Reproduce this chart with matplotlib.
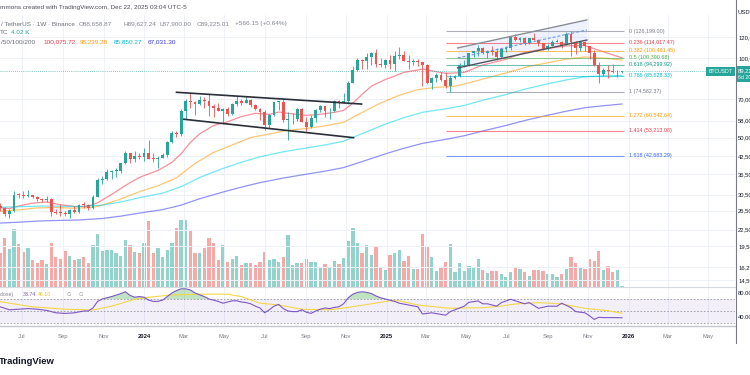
import numpy as np
import pandas as pd
import matplotlib
matplotlib.use("Agg")
import matplotlib.pyplot as plt
import matplotlib.dates as mdates
from matplotlib.lines import Line2D
from matplotlib.patches import Rectangle
from matplotlib.ticker import FixedLocator, NullLocator, FuncFormatter

plt.rcParams["font.family"] = ["Liberation Sans", "DejaVu Sans"]

W, H = 750, 375

# weekly BTCUSDT candles (thousand USDT), first bar opens 2023-05-29
week_start = "2023-05-29"
first_open = 27.6
highs = [28.45, 27.4, 26.8, 31.4, 31.0, 31.5, 31.8, 30.4, 30.0, 29.7,
         30.2, 29.7, 26.8, 28.1, 26.4, 26.9, 27.5, 28.0, 28.6, 28.0,
         30.4, 35.2, 35.9, 38.0, 37.9, 38.4, 40.25, 44.7, 43.9, 44.4,
         43.8, 45.9, 49.0, 43.6, 42.8, 43.9, 48.6, 52.8, 53.0, 64.0,
         69.9, 73.8, 68.9, 71.7, 71.3, 72.8, 67.2, 67.5, 64.7, 65.5,
         67.7, 71.95, 70.0, 71.95, 70.2, 67.0, 64.5, 63.8, 61.4, 68.4,
         69.0, 70.1, 62.7, 62.0, 65.0, 64.9, 59.8, 60.7, 64.1, 66.5,
         66.0, 64.5, 69.4, 69.5, 73.6, 81.5, 93.3, 99.6, 98.7, 104.1,
         105.2, 108.4, 99.95, 98.9, 102.7, 106.0, 109.6, 106.5, 102.5, 98.8,
         99.5, 96.5, 95.0, 84.5, 87.5, 88.8, 88.5, 86.1, 86.5, 95.8,
         97.9, 104.4, 106.6, 111.98, 110.4, 106.8, 110.5, 108.9, 108.5, 110.5,
         119.9, 123.2, 120.2, 119.8, 119.4, 124.5, 117.6, 113.6, 113.4, 116.7,
         117.9, 115.5, 125.7, 126.2, 116.0, 115.5, 116.4, 110.9, 107.5, 96.6,
         92.0, 94.2, 94.6, 90.4, 89.627]
lows = [26.5, 25.35, 24.8, 26.25, 29.5, 29.7, 29.95, 29.5, 28.9, 28.6,
        28.7, 25.2, 25.8, 25.35, 25.4, 24.9, 26.0, 26.0, 27.2, 26.55,
        26.9, 29.9, 33.4, 34.5, 34.8, 35.6, 36.9, 39.8, 40.2, 40.5,
        41.5, 40.75, 41.5, 40.3, 38.5, 41.8, 42.3, 47.7, 50.5, 50.9,
        59.0, 64.5, 60.8, 66.4, 64.5, 60.6, 59.6, 62.8, 56.55, 60.2,
        60.8, 66.1, 66.6, 67.6, 65.1, 63.4, 58.4, 53.5, 54.3, 60.6,
        63.5, 57.2, 49.0, 56.1, 57.8, 57.2, 52.55, 54.6, 57.5, 62.7,
        59.8, 58.9, 62.6, 65.0, 67.5, 66.8, 80.2, 89.4, 90.8, 90.5,
        94.1, 92.2, 92.5, 91.5, 91.2, 89.3, 99.5, 97.3, 91.2, 94.1,
        93.4, 78.2, 80.0, 76.6, 81.1, 81.6, 77.2, 74.5, 83.0, 85.1,
        92.8, 93.4, 100.7, 102.0, 103.1, 100.4, 102.7, 98.2, 99.6, 105.1,
        107.5, 115.7, 114.7, 112.0, 112.7, 116.8, 110.6, 107.3, 107.3, 110.6,
        114.4, 108.6, 111.6, 102.0, 103.5, 106.7, 106.3, 98.9, 93.0, 80.6,
        85.3, 83.8, 87.6, 84.4, 87.9]
closes = [27.1, 25.85, 26.35, 30.5, 30.45, 30.15, 30.25, 29.85, 29.3, 29.05,
          29.4, 26.1, 26.05, 25.95, 25.85, 26.55, 26.25, 27.95, 27.9, 27.15,
          29.95, 34.5, 35.0, 37.05, 37.4, 37.45, 39.95, 43.8, 41.4, 42.6,
          42.3, 43.9, 41.7, 41.6, 42.0, 43.0, 48.3, 52.1, 51.7, 63.1,
          68.9, 68.4, 67.2, 69.6, 69.0, 65.7, 64.9, 63.1, 64.0, 61.5,
          66.9, 68.5, 67.8, 69.6, 66.5, 64.2, 62.7, 55.8, 60.8, 68.2,
          68.25, 58.1, 58.7, 58.9, 64.2, 57.3, 54.8, 59.1, 63.6, 65.6,
          62.8, 62.9, 69.0, 67.9, 68.7, 80.4, 89.9, 97.9, 97.2, 101.1,
          104.4, 95.2, 93.7, 98.3, 94.5, 101.3, 102.6, 97.7, 96.5, 97.6,
          96.3, 94.3, 80.7, 84.0, 86.1, 82.4, 78.4, 83.8, 85.2, 93.8,
          94.3, 104.1, 106.5, 109.0, 104.6, 105.7, 105.6, 100.9, 108.4, 109.2,
          119.8, 117.3, 119.4, 114.2, 119.3, 117.4, 113.5, 108.3, 111.2, 115.3,
          115.3, 112.2, 123.5, 115.1, 108.6, 114.5, 110.6, 104.7, 94.2, 86.8,
          90.4, 89.4, 88.2, 88.659, 89.225]
# weekly volume, thousand BTC
vol_k = [136, 196, 152, 232, 172, 140, 156, 108, 96, 108,
         92, 176, 120, 112, 144, 124, 108, 112, 120, 96,
         168, 212, 144, 148, 148, 136, 124, 188, 168, 140,
         136, 176, 264, 136, 156, 120, 148, 176, 236, 268,
         268, 228, 136, 136, 156, 196, 176, 108, 168, 100,
         112, 124, 88, 96, 96, 88, 100, 140, 108, 112,
         100, 120, 208, 88, 96, 96, 112, 100, 100, 80,
         92, 80, 104, 92, 116, 184, 236, 176, 136, 168,
         128, 160, 80, 68, 128, 136, 148, 104, 124, 72,
         72, 212, 160, 120, 64, 80, 100, 172, 60, 96,
         64, 84, 80, 112, 68, 56, 64, 64, 52, 40,
         60, 76, 72, 60, 44, 68, 68, 64, 52, 52,
         40, 52, 72, 120, 96, 80, 72, 112, 104, 144,
         68, 84, 60, 68, 4.02]

# moving averages 20/50/100/200 (thousand USDT)
ma20_dates = ["2023-05-29", "2023-06-12", "2023-06-26", "2023-07-17", "2023-08-07", "2023-08-28",
              "2023-09-18", "2023-10-09", "2023-10-23", "2023-11-13", "2023-12-04", "2023-12-25",
              "2024-01-22", "2024-02-12", "2024-02-26", "2024-03-11", "2024-03-25", "2024-04-15",
              "2024-05-06", "2024-05-27", "2024-06-17", "2024-07-08", "2024-07-22", "2024-08-12",
              "2024-09-02", "2024-09-23", "2024-10-14", "2024-10-28", "2024-11-11", "2024-11-25",
              "2024-12-09", "2024-12-30", "2025-01-27", "2025-02-24", "2025-03-31", "2025-04-28",
              "2025-05-26", "2025-06-30", "2025-07-28", "2025-08-25", "2025-09-29", "2025-10-27",
              "2025-11-24", "2025-12-22"]
ma20_vals = [27.2, 27.0, 27.6, 28.3, 28.6, 27.9, 27.5, 27.5, 28.4, 30.5,
             33.0, 35.4, 37.6, 40.3, 43.5, 48.0, 51.7, 55.6, 57.4, 60.1,
             61.8, 61.2, 62.5, 61.5, 60.7, 61.3, 62.3, 63.4, 67.5, 72.9,
             78.3, 82.9, 88.2, 90.8, 87.4, 88.2, 94.1, 98.8, 105.0, 108.0,
             111.1, 111.4, 105.5, 100.08]
ma50_dates = ["2023-05-29", "2023-06-26", "2023-07-24", "2023-08-21", "2023-09-18", "2023-10-16",
              "2023-10-30", "2023-11-27", "2023-12-25", "2024-01-22", "2024-02-19", "2024-03-18",
              "2024-04-15", "2024-05-13", "2024-06-10", "2024-07-08", "2024-08-05", "2024-09-02",
              "2024-09-30", "2024-10-28", "2024-11-25", "2024-12-23", "2025-01-20", "2025-02-17",
              "2025-03-17", "2025-04-14", "2025-05-12", "2025-06-09", "2025-07-07", "2025-08-04",
              "2025-09-01", "2025-09-29", "2025-10-27", "2025-11-24", "2025-12-22"]
ma50_vals = [26.40, 26.69, 27.16, 27.23, 27.07, 27.25, 27.83, 29.33, 31.28, 32.91,
             35.27, 39.96, 43.99, 46.93, 50.06, 51.64, 53.34, 54.13, 55.42, 57.16,
             62.26, 67.60, 72.29, 75.94, 77.45, 78.20, 81.41, 85.08, 88.74, 93.00,
             95.89, 98.96, 100.91, 99.86, 98.24]
ma100_dates = ["2023-05-29", "2023-07-31", "2023-09-25", "2023-10-30", "2023-11-27", "2023-12-25",
               "2024-01-29", "2024-02-26", "2024-03-25", "2024-04-29", "2024-05-27", "2024-06-24",
               "2024-07-29", "2024-08-26", "2024-09-30", "2024-10-28", "2024-11-25", "2024-12-30",
               "2025-01-27", "2025-02-24", "2025-03-31", "2025-04-28", "2025-05-26", "2025-06-30",
               "2025-07-28", "2025-08-25", "2025-09-29", "2025-10-27", "2025-11-24", "2025-12-22"]
ma100_vals = [27.30, 27.60, 27.48, 27.81, 28.59, 29.66, 30.87, 32.64, 35.40, 38.25,
              40.40, 42.34, 44.24, 45.43, 46.94, 48.49, 51.80, 56.24, 59.53, 62.35,
              64.25, 66.18, 69.25, 72.74, 76.20, 79.15, 82.62, 84.90, 85.59, 85.85]
ma200_dates = ["2023-05-29", "2023-06-26", "2023-07-31", "2023-08-28", "2023-09-25", "2023-10-30",
               "2023-11-27", "2023-12-25", "2024-01-29", "2024-02-26", "2024-03-25", "2024-04-29",
               "2024-05-27", "2024-06-24", "2024-07-29", "2024-08-26", "2024-09-30", "2024-10-28",
               "2024-11-25", "2024-12-30", "2025-01-27", "2025-02-24", "2025-03-31", "2025-04-28",
               "2025-05-26", "2025-06-30", "2025-07-28", "2025-08-25", "2025-09-29", "2025-10-27",
               "2025-11-24", "2025-12-22"]
ma200_vals = [23.80, 23.98, 24.26, 24.36, 24.45, 24.76, 25.28, 25.95, 26.75, 27.81,
              29.41, 31.16, 32.53, 33.83, 35.20, 36.16, 37.38, 38.55, 40.62, 43.44,
              45.61, 47.59, 49.28, 50.85, 53.01, 55.60, 58.03, 60.25, 62.95, 64.88,
              66.02, 67.03]

# fibonacci retracement
fib_dates = ["2025-03-31", "2025-12-25"]
fib_ratios = ["0", "0.236", "0.382", "0.5", "0.618", "0.786", "1", "1.272", "1.414", "1.618"]
fib_prices = [126199.00, 114017.47, 106481.45, 100390.68, 94299.92, 85628.33,
              74582.37, 60542.64, 53213.08, 42683.29]
fib_colors = ["#787b86", "#f23645", "#ff9800", "#4caf50", "#089981", "#00bcd4",
              "#787b86", "#ff9800", "#f23645", "#2962ff"]

# drawings (thousand USDT)
flag_up_dates = ["2024-02-19", "2024-11-24"]
flag_up_vals = [74.2, 67.0]
flag_lo_dates = ["2024-03-01", "2024-11-12"]
flag_lo_vals = [58.7, 50.0]
chan_dates = ["2025-04-18", "2025-10-30"]
chan_upper = [109.1, 139.2]
chan_mid = [100.0, 127.5]
chan_lower = [91.7, 116.9]

# RSI 14 and its moving average (week index -> value)
rsi_weeks = [0, 2, 4, 6, 8, 10, 12, 14, 16, 18,
             19, 20, 21, 22, 24, 26, 27, 28, 29, 30,
             31, 32, 33, 34, 35, 36, 37, 38, 39, 40,
             41, 42, 43, 44, 45, 46, 47, 48, 49, 50,
             51, 52, 53, 54, 55, 56, 57, 58, 59, 60,
             61, 62, 63, 64, 65, 66, 67, 68, 69, 70,
             71, 72, 73, 74, 75, 76, 77, 78, 79, 80,
             81, 82, 83, 84, 85, 86, 88, 90, 91, 93,
             96, 97, 98, 100, 101, 103, 104, 105, 107, 108,
             110, 111, 113, 114, 116, 118, 120, 121, 123, 124,
             126, 127, 128, 129, 130, 132, 134]
rsi_vals = [57, 52, 53, 54, 53, 51, 47, 46, 47, 50,
            50, 55, 66, 70, 74, 79, 82, 76, 73, 74,
            73, 68, 66, 66, 68, 74, 80, 84, 87, 87,
            85, 80, 77, 74, 70, 68, 66, 63, 65, 67,
            67, 65, 64, 62, 58, 55, 47, 52, 58, 61,
            54, 50, 49, 49, 52, 48, 46, 50, 53, 55,
            54, 56, 57, 62, 72, 78, 81, 82, 81, 79,
            75, 72, 70, 68, 66, 63, 60, 57, 45, 47,
            43, 49, 52, 58, 64.5, 66.7, 62, 62, 58, 64,
            69.5, 67, 62, 64, 54.5, 58, 58, 63, 55.5, 49,
            47, 42, 36, 39.5, 39, 39, 38.74]
rsima_weeks = [0, 7, 14, 20, 24, 29, 32, 37, 43, 49, 52, 56, 60, 65, 71,
               75, 80, 84, 86, 90, 97, 104, 108, 111, 116, 121, 126, 131, 134]
rsima_vals = [65.5, 57, 53, 51.7, 58, 69.5, 73, 76.7, 78, 78, 74, 63, 60, 53, 52,
              56, 62, 67, 67, 60, 54.5, 55.5, 58.3, 61.7, 64, 61.7, 54.5, 50.5, 46.1]

price_ticks = [120000, 100000, 70000, 58000, 50000, 42500, 36500, 30500,
               26500, 22500, 19500, 16250, 14500]
tick_dates = ["2023-07-01", "2023-09-01", "2023-11-01", "2024-01-01", "2024-03-01", "2024-05-01",
              "2024-07-01", "2024-09-01", "2024-11-01", "2025-01-01", "2025-03-01", "2025-05-01",
              "2025-07-01", "2025-09-01", "2025-11-01", "2026-01-01", "2026-03-01", "2026-05-01"]
tick_labels = ["Jul", "Sep", "Nov", "2024", "Mar", "May", "Jul", "Sep", "Nov",
               "2025", "Mar", "May", "Jul", "Sep", "Nov", "2026", "Mar", "May"]

UP, DN = "#26a69a", "#ef5350"
UP_V, DN_V = "#92d3cc", "#f7a9a7"
GRID = "#eef1f6"


def d2n(lst):
    return mdates.date2num(pd.to_datetime(lst).values)


def txt(px, py, s, **kw):
    kw.setdefault("va", "center")
    return fig.text(px / W, 1 - py / H, s, **kw)


fig = plt.figure(figsize=(7.5, 3.75), dpi=100)
fig.patch.set_facecolor("white")

price_rect = [0, 1 - 287 / H, 735 / W, (287 - 15) / H]
rsi_rect = [0, 1 - 325 / H, 735 / W, (325 - 287) / H]
ax_vol = fig.add_axes(price_rect)
ax = fig.add_axes(price_rect, sharex=ax_vol)
ax.patch.set_alpha(0)
ax_rsi = fig.add_axes(rsi_rect, sharex=ax_vol)

dates = pd.date_range(week_start, periods=len(closes), freq="7D")
x = mdates.date2num(dates.values)
c = np.array(closes) * 1000
o = np.array([first_open] + closes[:-1]) * 1000
h = np.array(highs) * 1000
l = np.array(lows) * 1000
up = c >= o

# volume overlay
ax_vol.bar(x, vol_k, width=5.0, color=np.where(up, UP_V, DN_V), linewidth=0)
ax_vol.set_ylim(0, 1088)
ax_vol.set_yticks([])

# candles
ax.set_yscale("log")
col = np.where(up, UP, DN)
ax.vlines(x, l, h, colors=col, lw=0.6, zorder=3)
lo = np.minimum(o, c)
ax.bar(x, np.maximum(np.abs(c - o), lo * 0.006), bottom=lo, width=4.3,
       color=col, linewidth=0, zorder=4)

# moving averages
for dl, vl, color in [(ma20_dates, ma20_vals, "#f23645"), (ma50_dates, ma50_vals, "#ff9800"),
                      (ma100_dates, ma100_vals, "#00d4ee"), (ma200_dates, ma200_vals, "#3a3af0")]:
    ax.plot(d2n(dl), np.array(vl) * 1000, color=color, lw=0.9, alpha=0.55, zorder=2)

# descending flag
ax.plot(d2n(flag_up_dates), np.array(flag_up_vals) * 1000, color="#2a2e39", lw=1.2, zorder=5)
ax.plot(d2n(flag_lo_dates), np.array(flag_lo_vals) * 1000, color="#2a2e39", lw=1.2, zorder=5)

# rising channel
cx = d2n(chan_dates)
ax.fill_between(cx, np.array(chan_lower) * 1000, np.array(chan_upper) * 1000,
                color="#2962ff", alpha=0.08, lw=0, zorder=1)
ax.plot(cx, np.array(chan_upper) * 1000, color="#8a8d96", lw=1.0, zorder=5)
ax.plot(cx, np.array(chan_lower) * 1000, color="#50535e", lw=1.0, zorder=5)
ax.plot(cx, np.array(chan_mid) * 1000, color="#5b8def", lw=0.7, ls=(0, (3, 2)), zorder=5)

# fibonacci levels
fx0, fx1 = d2n(fib_dates)
for r, p, fc in zip(fib_ratios, fib_prices, fib_colors):
    ax.hlines(p, fx0, fx1, color=fc, lw=0.8, alpha=0.6, zorder=2)
    ax.annotate(f"{r} ({p:,.2f})", (fx1, p), xytext=(3.6, 0), textcoords="offset points",
                fontsize=3.9, color=fc, va="center", ha="left")

# last price line
ax.axhline(c[-1], color=UP, lw=0.6, ls=(0, (1, 1.5)), alpha=0.8, zorder=2)

x0 = mdates.date2num(np.datetime64("2024-01-01"))
ppd = 242 / 365
ax.set_xlim(x0 - 144 / ppd, x0 + 591 / ppd)
ax.set_ylim(13650, 145300)
ax.yaxis.set_major_locator(FixedLocator(price_ticks))
ax.yaxis.set_minor_locator(NullLocator())
ax.yaxis.set_major_formatter(FuncFormatter(lambda v, p: f"{v:,.0f}"))
ax.yaxis.tick_right()
ax.tick_params(axis="y", which="both", length=0, pad=2.3, labelsize=4.2, labelcolor="#131722")

# RSI pane
rx = x[rsi_weeks]
rv = np.array(rsi_vals, dtype=float)
ax_rsi.axhspan(30, 70, color="#7e57c2", alpha=0.09, lw=0)
for lvl in (70, 50, 30):
    ax_rsi.axhline(lvl, color="#9598a1", lw=0.6, ls=(0, (2, 2)))
ax_rsi.fill_between(rx, 70, rv, where=rv > 70, interpolate=True, color="#4caf50", alpha=0.35, lw=0)
ax_rsi.plot(x[rsima_weeks], rsima_vals, color="#f5d64a", lw=0.8)
ax_rsi.plot(rx, rv, color="#7e57c2", lw=0.8)
ax_rsi.set_ylim(26.67, 90)
ax_rsi.yaxis.tick_right()
ax_rsi.set_yticks([80, 40])
ax_rsi.set_yticklabels(["80.00", "40.00"])
ax_rsi.tick_params(axis="y", length=0, pad=2.3, labelsize=4.2, labelcolor="#131722")

ax_rsi.set_xticks(d2n(tick_dates))
ax_rsi.set_xticklabels(tick_labels)
ax_rsi.tick_params(axis="x", length=0, pad=6.5, labelsize=4.2, labelcolor="#787b86")
for t in ax_rsi.get_xticklabels():
    if t.get_text().isdigit():
        t.set_color("#131722")
        t.set_fontweight("bold")

for a in (ax_vol, ax, ax_rsi):
    for s in a.spines.values():
        s.set_visible(False)
ax.tick_params(axis="x", labelbottom=False, length=0)
ax_vol.tick_params(axis="x", labelbottom=False, length=0)
ax.grid(True, color=GRID, lw=0.7)
ax.set_axisbelow(True)
ax_rsi.grid(True, axis="x", color=GRID, lw=0.7)
ax_rsi.set_axisbelow(True)

# pane borders
fig.add_artist(Line2D([0, 735 / W], [1 - 287 / H] * 2, color="#d6d9e0", lw=0.8))
fig.add_artist(Line2D([0, 735 / W], [1 - 325.5 / H] * 2, color="#c3c6cd", lw=1.0))
fig.add_artist(Line2D([735.5 / W] * 2, [1, 1 - 343 / H], color="#787b86", lw=0.8))

# price labels
fig.add_artist(Rectangle((706 / W, 1 - 76 / H), 28.5 / W, 9 / H, transform=fig.transFigure,
                         color=UP, lw=0))
txt(720.5, 71.5, "BTCUSDT", fontsize=3.7, color="white", ha="center")
fig.add_artist(Rectangle((736.5 / W, 1 - 82 / H), 14 / W, 16 / H, transform=fig.transFigure,
                         color=UP, lw=0))
txt(738, 70.5, f"{c[-1]:,.2f}", fontsize=4.2, color="white", ha="left")
txt(738, 77.5, "6d 20h", fontsize=3.8, color="white", ha="left")
txt(738, 13, "USDT", fontsize=4.2, color="#131722", ha="left")

# header text
txt(0, 7.5, "mmons created with TradingView.com, Dec 22, 2025 03:04 UTC-5",
    fontsize=4.6, color="#4a4e58")
txt(1, 24, "/ TetherUS \u00b7 1W \u00b7 Binance", fontsize=4.6, color="#6a6e78")
for sx, s in [(79, "O88,658.87"), (123, "H89,627.24"), (160, "L87,900.00"),
              (197, "C89,225.01"), (235, "+566.15 (+0.64%)")]:
    txt(sx, 24, s, fontsize=4.6, color="#80848e")
txt(0, 33, "TC", fontsize=4.6, color="#6a6e78")
txt(11, 33, "4.02 K", fontsize=4.6, color=UP)
txt(1, 42, "/50/100/200", fontsize=4.6, color="#6a6e78")
for sx, s, cc in [(43, "100,075.72", "#f23645"), (80, "98,239.28", "#ff9800"),
                  (114, "85,850.27", "#00bcd4"), (148, "67,031.30", "#3535e8")]:
    txt(sx, 42, s, fontsize=4.6, color=cc)

# RSI legend
txt(0, 294.3, "close)", fontsize=3.8, color="#80848e")
txt(23, 294.3, "38.74", fontsize=3.8, color="#7e57c2")
txt(38, 294.3, "46.10", fontsize=3.8, color="#e5c12a")
txt(67, 294.3, "\u2205", fontsize=3.8, color="#80848e")
txt(79, 294.3, "\u2205", fontsize=3.8, color="#80848e")

# logo
txt(-1, 362, "TradingView", fontsize=6.8, fontweight="bold", color="#131722")

fig.savefig("out.png", dpi=100, facecolor="white")
